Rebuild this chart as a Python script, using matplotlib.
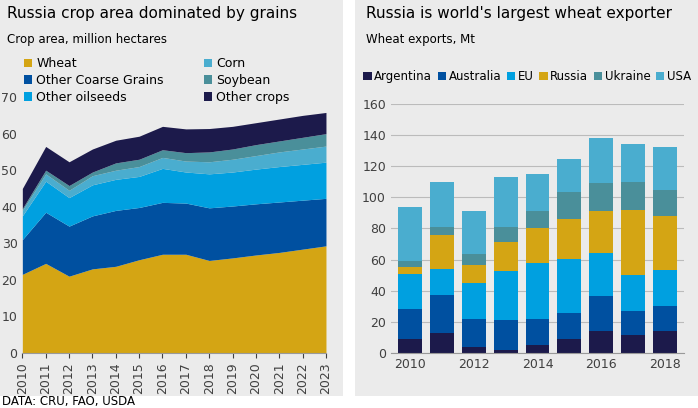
import numpy as np
from matplotlib import pyplot as plt

years = list(range(2010, 2024))
# cumulative tops
wheat_c = [21.5, 24.5, 21, 23, 23.7, 25.5, 27, 27, 25.3, 26, 26.8, 27.5, 28.4, 29.3]
ocg_c = [31, 38.5, 34.7, 37.5, 39, 39.8, 41.2, 41, 39.7, 40.2, 40.8, 41.3, 41.8, 42.3]
oil_c = [37.5, 47, 42.5, 46, 47.5, 48.3, 50.5, 49.5, 49, 49.5, 50.3, 51, 51.6, 52.2]
corn_c = [39, 49, 44.5, 48.5, 50, 51, 53.5, 52.5, 52.3, 53, 54, 55, 55.8, 56.6]
soy_c = [39.5, 50, 45.8, 49.5, 52, 53, 55.6, 54.8, 55, 55.8, 57, 58, 59, 60]
total_c = [45, 56.5, 52.3, 55.8, 58.2, 59.3, 62, 61.3, 61.4, 62, 63, 64, 65, 65.8]
crop_names = ["Wheat", "Other Coarse Grains", "Other oilseeds", "Corn", "Soybean", "Other crops"]

exp_years = list(range(2010, 2019))
arg_c = [9, 12.5, 3.5, 2, 5, 9, 14, 11.5, 14]
aus_c = [28, 37.5, 22, 21, 21.5, 25.5, 36.5, 27, 30]
eu_c = [51, 54, 45, 52.5, 57.5, 60.5, 64, 50, 53]
rus_c = [55, 76, 56.5, 71, 80, 86, 91.5, 92, 88]
ukr_c = [59, 81, 63.5, 81, 91.5, 103.5, 109.5, 110, 104.5]
usa_c = [94, 110, 91, 113, 115, 124.5, 138, 134.5, 132.5]
exp_names = ["Argentina", "Australia", "EU", "Russia", "Ukraine", "USA"]

cols = ["#D4A514", "#0050A0", "#00A0E0", "#4AADCF", "#4A8F9A", "#1C1A4B"]
bg = "#EBEBEB"

fig = plt.figure(figsize=(6.98, 4.08), dpi=100)
fig.patch.set_facecolor("white")
for x0 in (0.0, 0.508):
    fig.patches.append(plt.Rectangle((x0, 0.03), 0.492, 0.97, transform=fig.transFigure,
                                     facecolor=bg, zorder=-1))

ax1 = fig.add_axes([0.032, 0.135, 0.435, 0.627])
ax1.set_facecolor(bg)
cum = [wheat_c, ocg_c, oil_c, corn_c, soy_c, total_c]
prev = np.zeros(len(years))
for name, top, c in zip(crop_names, cum, cols):
    ax1.fill_between(years, prev, top, color=c, lw=0, label=name)
    prev = np.array(top)
ax1.set_xlim(2010, 2023)
ax1.set_ylim(0, 70)
ax1.set_xticks(years)
ax1.set_xticklabels(years, rotation=90, fontsize=9)
ax1.set_yticks(range(0, 71, 10))
ax1.tick_params(axis="y", length=0, labelsize=9, colors="#404040")
ax1.tick_params(axis="x", colors="#404040")
for s in ax1.spines.values():
    s.set_visible(False)
ax1.spines["bottom"].set_visible(True)
ax1.spines["bottom"].set_color("#999999")
ax1.legend(loc="upper left", bbox_to_anchor=(0.025, 0.875), bbox_transform=fig.transFigure,
           ncol=2, frameon=False, fontsize=9, handlelength=0.7, handleheight=0.7,
           columnspacing=3.2, handletextpad=0.3, labelspacing=0.3, borderpad=0)
fig.text(0.01, 0.955, "Russia crop area dominated by grains", fontsize=11)
fig.text(0.01, 0.895, "Crop area, million hectares", fontsize=8.5)

ax2 = fig.add_axes([0.56, 0.135, 0.42, 0.61])
ax2.set_facecolor(bg)
ecum = [arg_c, aus_c, eu_c, rus_c, ukr_c, usa_c]
ecols = ["#1C1A4B", "#0050A0", "#00A0E0", "#D4A514", "#4A8F9A", "#4AADCF"]
prev = np.zeros(len(exp_years))
for name, top, c in zip(exp_names, ecum, ecols):
    ax2.bar(exp_years, np.array(top) - prev, bottom=prev, width=0.75, color=c, label=name, zorder=2)
    prev = np.array(top)
ax2.set_ylim(0, 160)
ax2.set_xlim(2009.4, 2018.6)
ax2.set_yticks(range(0, 161, 20))
ax2.set_xticks([2010, 2012, 2014, 2016, 2018])
ax2.grid(axis="y", color="#BBBBBB", lw=0.8, zorder=0)
ax2.tick_params(length=0, labelsize=9, colors="#404040")
for s in ax2.spines.values():
    s.set_visible(False)
ax2.spines["bottom"].set_visible(True)
ax2.spines["bottom"].set_color("#999999")
ax2.legend(loc="upper left", bbox_to_anchor=(-0.13, 1.18), ncol=6, frameon=False,
           fontsize=8.5, handlelength=0.7, handleheight=0.7, columnspacing=0.5,
           handletextpad=0.2)
fig.text(0.525, 0.955, "Russia is world's largest wheat exporter", fontsize=11)
fig.text(0.525, 0.895, "Wheat exports, Mt", fontsize=8.5)

fig.text(0.003, 0.008, "DATA: CRU, FAO, USDA", fontsize=8.5)
fig.savefig("out.png", dpi=100)
